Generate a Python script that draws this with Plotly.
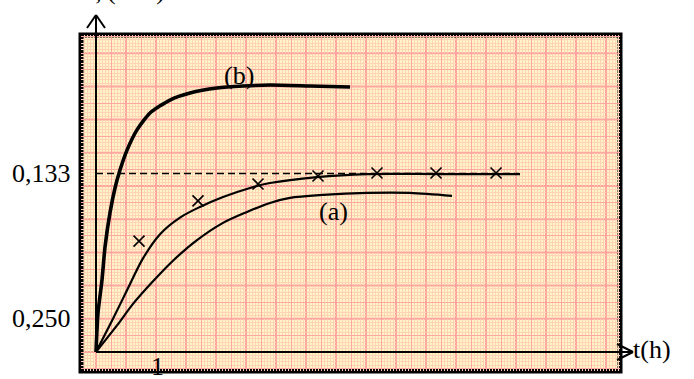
import numpy as np
import plotly.graph_objects as go

# curve (b): t in hours, y in grid units (1 unit = one big square)
t_b = [0, 0.033, 0.10, 0.15, 0.233, 0.317, 0.40, 0.517, 0.683, 0.90, 1.233, 1.567, 2.017, 2.45, 2.90, 3.567, 4.233]
y_b = [0, 1.17, 2.17, 3.16, 4.19, 4.94, 5.48, 6.08, 6.69, 7.20, 7.59, 7.80, 7.95, 8.01, 8.04, 8.01, 7.98]

# middle curve (fit of the measured points)
t_m = [0, 0.283, 0.517, 0.783, 1.067, 1.40, 1.733, 2.117, 2.567, 2.90, 3.683, 4.517, 5.733, 7.067]
y_m = [0, 1.00, 1.86, 2.82, 3.55, 4.05, 4.37, 4.67, 4.94, 5.09, 5.27, 5.36, 5.36, 5.36]

# curve (a)
t_a = [0, 0.35, 0.617, 0.95, 1.283, 1.683, 2.117, 2.517, 2.90, 3.233, 3.783, 4.517, 5.233, 5.933]
y_a = [0, 0.80, 1.45, 2.13, 2.75, 3.37, 3.89, 4.22, 4.49, 4.64, 4.73, 4.79, 4.79, 4.70]

# measured points (crosses)
t_pts = [-0.267, 0.717, 1.70, 2.70, 3.70, 4.683, 5.667, 6.667]
y_pts = [0, 3.34, 4.55, 5.06, 5.30, 5.39, 5.39, 5.39]

# dashed asymptote
t_dash = [0, 7.05]
y_dash = [5.38, 5.38]

y_tick_vals = [1.0, 5.38]
y_tick_text = ["0,250", "0,133"]
x_tick_vals = [1.03]
x_tick_text = ["1"]

X_RANGE = [-0.25, 8.733]
Y_RANGE = [-0.572, 9.548]

BG = "#fff3c8"
MINOR = "#ffd4b6"
MEDIUM = "#ffa8a2"
MAJOR = "#ff9c9c"
FONT = "Liberation Serif"


def xp(t):
    return (t - X_RANGE[0]) / (X_RANGE[1] - X_RANGE[0])


def yp(v):
    return (v - Y_RANGE[0]) / (Y_RANGE[1] - Y_RANGE[0])


fig = go.Figure()

fig.add_trace(go.Scatter(x=t_dash, y=y_dash, mode="lines",
                         line=dict(color="black", width=1.5, dash="7px,4px")))
fig.add_trace(go.Scatter(x=t_a, y=y_a, mode="lines",
                         line=dict(color="black", width=2.2, shape="spline", smoothing=0.9)))
fig.add_trace(go.Scatter(x=t_m, y=y_m, mode="lines",
                         line=dict(color="black", width=2.2, shape="spline", smoothing=0.9)))
fig.add_trace(go.Scatter(x=t_b, y=y_b, mode="lines",
                         line=dict(color="black", width=3.6, shape="spline", smoothing=0.6)))
fig.add_trace(go.Scatter(x=t_pts, y=y_pts, mode="markers", cliponaxis=False,
                         marker=dict(symbol="x-thin", size=11, color="black",
                                     line=dict(color="black", width=1.6))))

shapes = []
# big squares of the graph paper
for t in np.arange(0, X_RANGE[1], 0.5):
    shapes.append(dict(type="line", xref="x", yref="paper", x0=t, x1=t, y0=0, y1=1,
                       line=dict(color=MAJOR, width=2), layer="between"))
for v in np.arange(0, Y_RANGE[1], 1.0):
    shapes.append(dict(type="line", xref="paper", yref="y", x0=0, x1=1, y0=v, y1=v,
                       line=dict(color=MAJOR, width=2), layer="between"))

# thick frame
shapes.append(dict(type="rect", xref="paper", yref="paper", x0=0, y0=0, x1=1, y1=1,
                   line=dict(color="black", width=5), layer="between"))

# axes with open arrow heads
axis = dict(color="black", width=2)
shapes += [
    dict(type="line", xref="paper", yref="paper", x0=xp(0), y0=yp(0), x1=xp(0), y1=yp(10.15), line=axis),
    dict(type="line", xref="paper", yref="paper", x0=xp(-0.15), y0=yp(9.76), x1=xp(0), y1=yp(10.15), line=axis),
    dict(type="line", xref="paper", yref="paper", x0=xp(0.15), y0=yp(9.76), x1=xp(0), y1=yp(10.15), line=axis),
    dict(type="line", xref="paper", yref="paper", x0=xp(0), y0=yp(0), x1=xp(8.95), y1=yp(0), line=axis),
    dict(type="line", xref="paper", yref="paper", x0=xp(8.683), y0=yp(0.241), x1=xp(8.95), y1=yp(0), line=axis),
    dict(type="line", xref="paper", yref="paper", x0=xp(8.683), y0=yp(-0.241), x1=xp(8.95), y1=yp(0), line=axis),
]

txt = dict(family=FONT, size=26, color="black")
annotations = [
    dict(text="(b)", x=2.383, y=8.34, xref="x", yref="y", showarrow=False, font=txt),
    dict(text="(a)", x=3.95, y=4.22, xref="x", yref="y", showarrow=False, font=txt),
    dict(text="t(h)", x=1.098, y=0.015, xref="paper", yref="paper", showarrow=False, font=txt),
    dict(text="ξ (mol)", x=0.011, y=1.083, xref="paper", yref="paper", xanchor="left",
         yanchor="bottom", showarrow=False, font=txt),
]
for v, s in zip(y_tick_vals, y_tick_text):
    annotations.append(dict(text=s, x=-0.015, y=v, xref="paper", yref="y", xanchor="right",
                            showarrow=False, font=txt))
for t, s in zip(x_tick_vals, x_tick_text):
    annotations.append(dict(text=s, x=t, y=-0.437, xref="x", yref="y", showarrow=False, font=txt))

fig.update_layout(
    width=694, height=379,
    margin=dict(l=81, r=74, t=35, b=8),
    paper_bgcolor="white", plot_bgcolor=BG,
    showlegend=False,
    xaxis=dict(range=X_RANGE, dtick=0.25, tick0=0, showgrid=True, gridcolor=MEDIUM, gridwidth=1.4,
               minor=dict(dtick=0.05, tick0=0, showgrid=True, gridcolor=MINOR, gridwidth=1),
               zeroline=False, showline=False, showticklabels=False, ticks=""),
    yaxis=dict(range=Y_RANGE, dtick=0.5, tick0=0, showgrid=True, gridcolor=MEDIUM, gridwidth=1.4,
               minor=dict(dtick=0.1, tick0=0, showgrid=True, gridcolor=MINOR, gridwidth=1),
               zeroline=False, showline=False, showticklabels=False, ticks=""),
    shapes=shapes,
    annotations=annotations,
)

# the page body has a default 8px margin; drop it so the figure sits at the corner
fig.write_html("out.html", config={"displayModeBar": False},
               post_script="document.body.style.margin='0';")
